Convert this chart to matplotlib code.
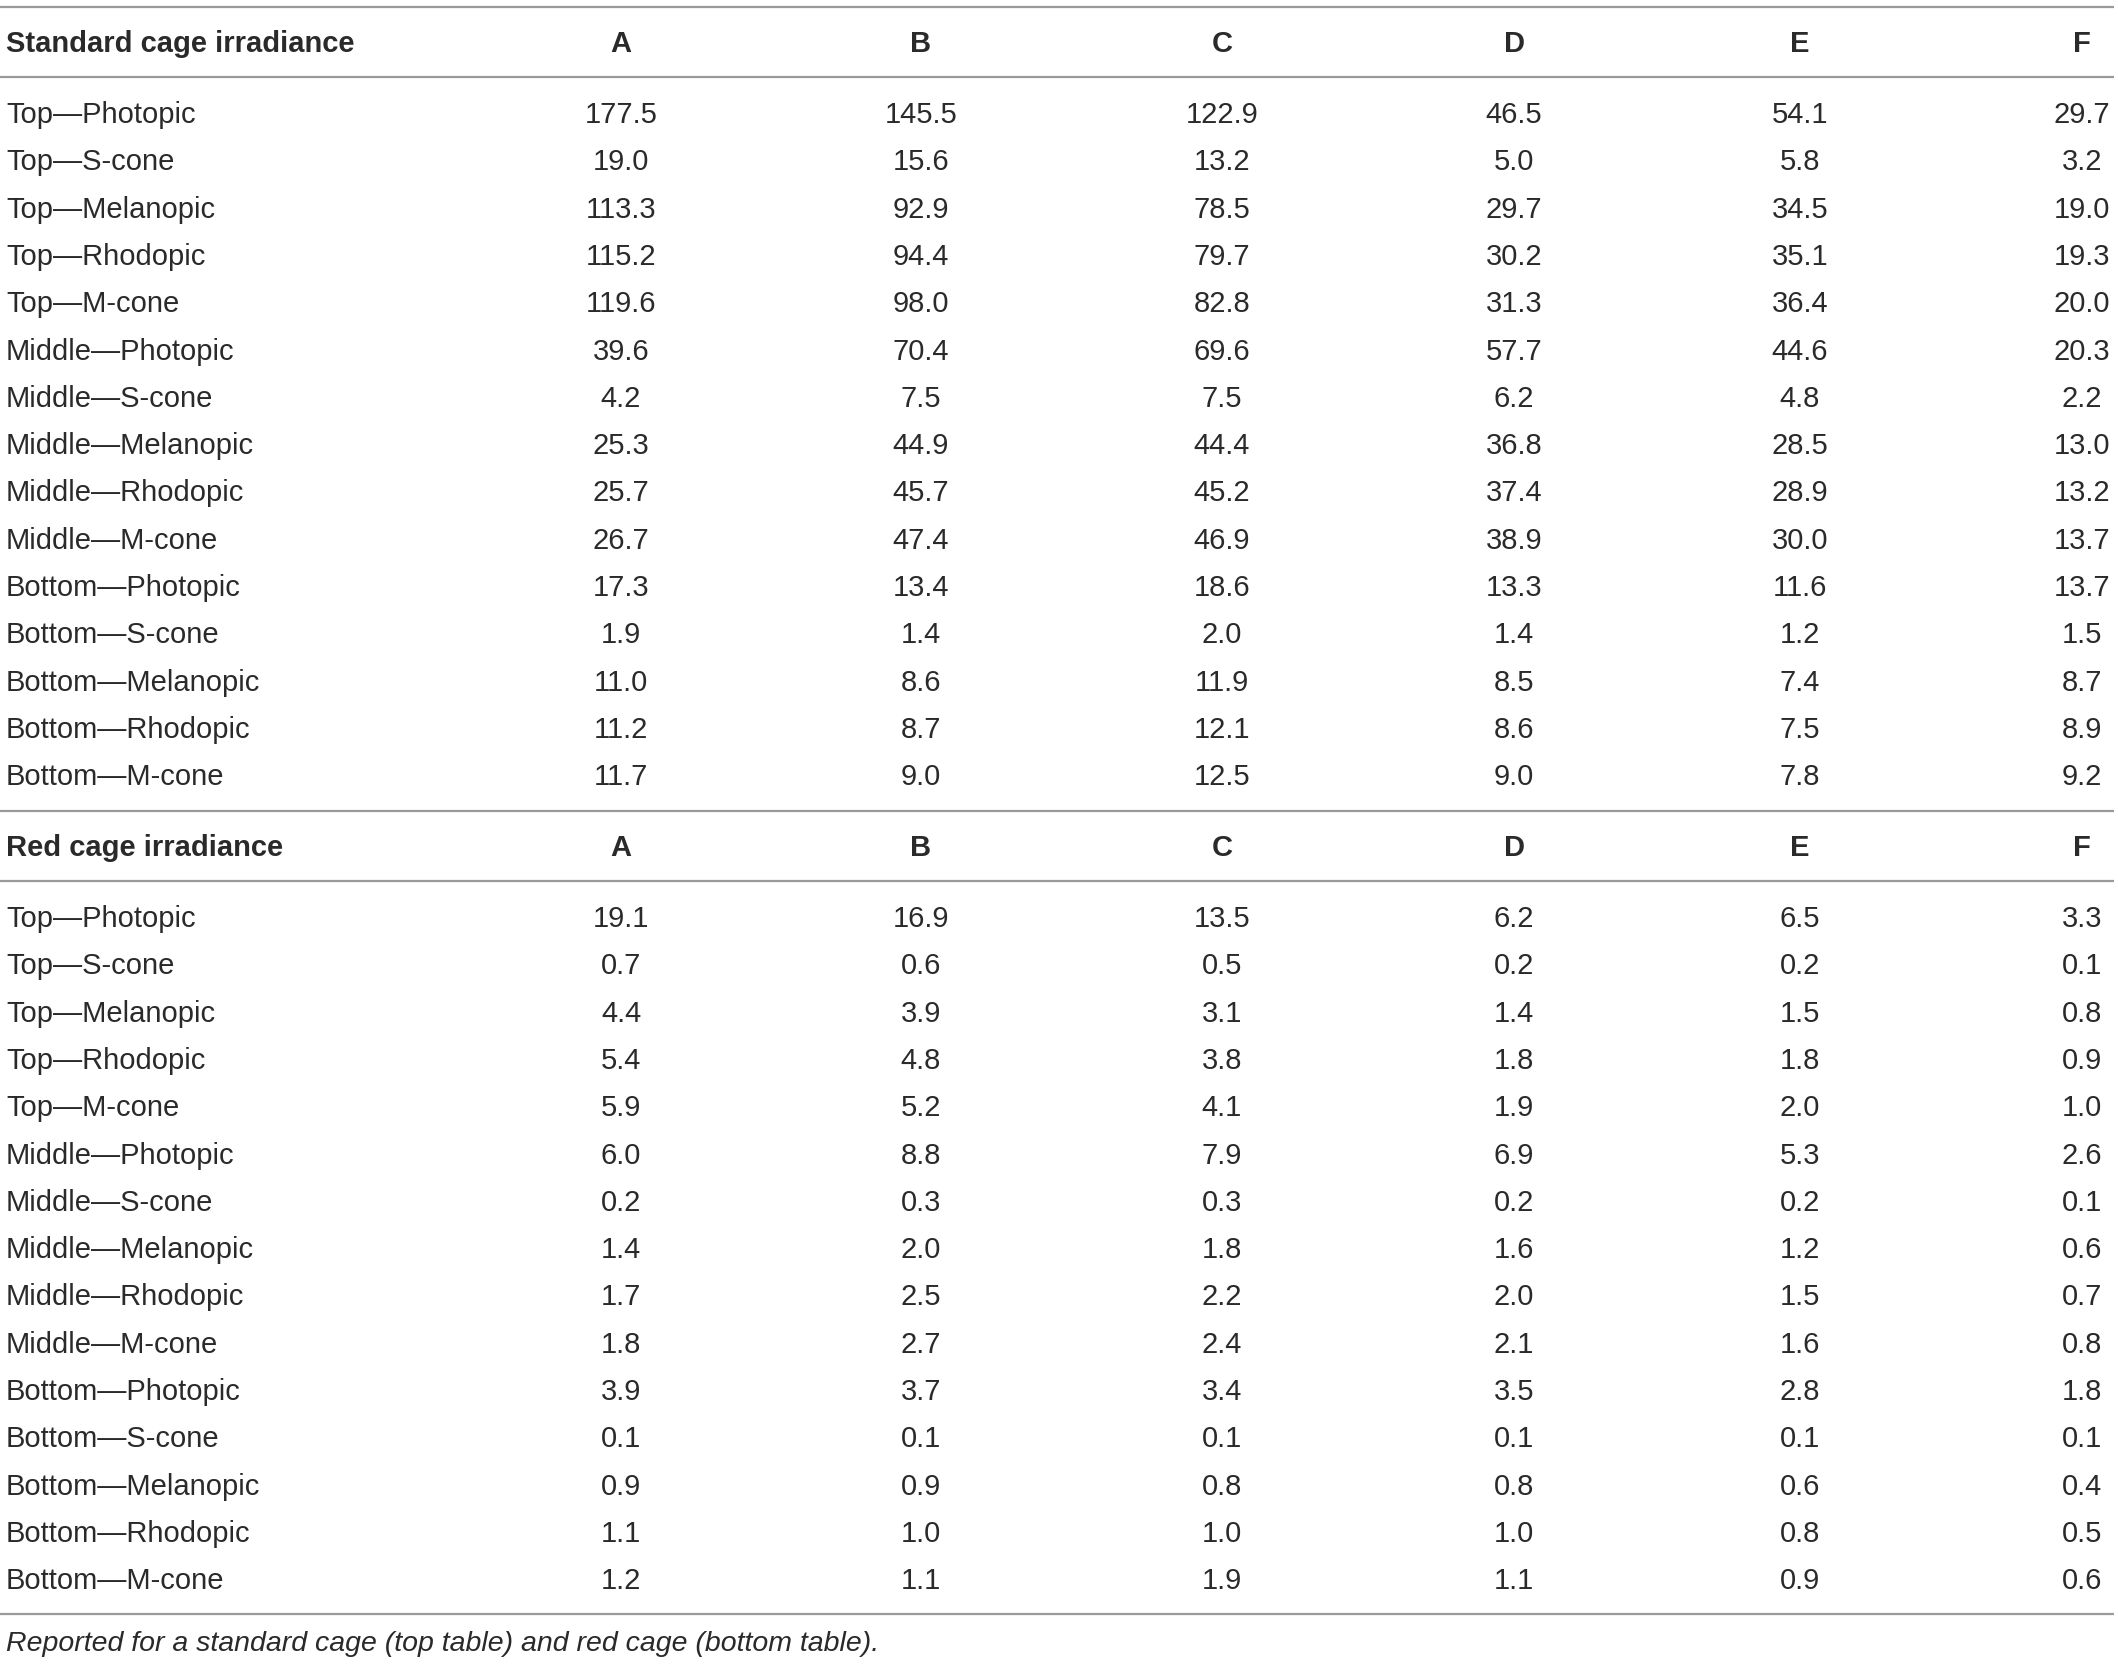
import matplotlib
matplotlib.use("Agg")
import matplotlib.pyplot as plt

columns = ["A", "B", "C", "D", "E", "F"]
row_labels = [
    "Top\u2014Photopic", "Top\u2014S-cone", "Top\u2014Melanopic", "Top\u2014Rhodopic", "Top\u2014M-cone",
    "Middle\u2014Photopic", "Middle\u2014S-cone", "Middle\u2014Melanopic", "Middle\u2014Rhodopic", "Middle\u2014M-cone",
    "Bottom\u2014Photopic", "Bottom\u2014S-cone", "Bottom\u2014Melanopic", "Bottom\u2014Rhodopic", "Bottom\u2014M-cone",
]
standard_title = "Standard cage irradiance"
red_title = "Red cage irradiance"
caption = "Reported for a standard cage (top table) and red cage (bottom table)."

standard_A = [177.5, 19.0, 113.3, 115.2, 119.6, 39.6, 4.2, 25.3, 25.7, 26.7, 17.3, 1.9, 11.0, 11.2, 11.7]
standard_B = [145.5, 15.6, 92.9, 94.4, 98.0, 70.4, 7.5, 44.9, 45.7, 47.4, 13.4, 1.4, 8.6, 8.7, 9.0]
standard_C = [122.9, 13.2, 78.5, 79.7, 82.8, 69.6, 7.5, 44.4, 45.2, 46.9, 18.6, 2.0, 11.9, 12.1, 12.5]
standard_D = [46.5, 5.0, 29.7, 30.2, 31.3, 57.7, 6.2, 36.8, 37.4, 38.9, 13.3, 1.4, 8.5, 8.6, 9.0]
standard_E = [54.1, 5.8, 34.5, 35.1, 36.4, 44.6, 4.8, 28.5, 28.9, 30.0, 11.6, 1.2, 7.4, 7.5, 7.8]
standard_F = [29.7, 3.2, 19.0, 19.3, 20.0, 20.3, 2.2, 13.0, 13.2, 13.7, 13.7, 1.5, 8.7, 8.9, 9.2]

red_A = [19.1, 0.7, 4.4, 5.4, 5.9, 6.0, 0.2, 1.4, 1.7, 1.8, 3.9, 0.1, 0.9, 1.1, 1.2]
red_B = [16.9, 0.6, 3.9, 4.8, 5.2, 8.8, 0.3, 2.0, 2.5, 2.7, 3.7, 0.1, 0.9, 1.0, 1.1]
red_C = [13.5, 0.5, 3.1, 3.8, 4.1, 7.9, 0.3, 1.8, 2.2, 2.4, 3.4, 0.1, 0.8, 1.0, 1.9]
red_D = [6.2, 0.2, 1.4, 1.8, 1.9, 6.9, 0.2, 1.6, 2.0, 2.1, 3.5, 0.1, 0.8, 1.0, 1.1]
red_E = [6.5, 0.2, 1.5, 1.8, 2.0, 5.3, 0.2, 1.2, 1.5, 1.6, 2.8, 0.1, 0.6, 0.8, 0.9]
red_F = [3.3, 0.1, 0.8, 0.9, 1.0, 2.6, 0.1, 0.6, 0.7, 0.8, 1.8, 0.1, 0.4, 0.5, 0.6]

standard_values = [standard_A, standard_B, standard_C, standard_D, standard_E, standard_F]
red_values = [red_A, red_B, red_C, red_D, red_E, red_F]

W, H = 2118, 1664
fig = plt.figure(figsize=(W / 100, H / 100), dpi=100)
ax = fig.add_axes([0, 0, 1, 1])
ax.set_xlim(0, W)
ax.set_ylim(H, 0)
ax.axis("off")

family = ["Liberation Sans", "DejaVu Sans"]
txt_color = "#2a2a2a"
rule_color = "#9a9a9a"
fs = 21

col_x = [621, 921, 1222, 1514, 1800, 2082]
label_x = 6
row_step = 47.3


def rule(y):
    ax.plot([0, 2114], [y, y], color=rule_color, lw=1.6, solid_capstyle="butt")


def block(title, values, y_top):
    rule(y_top)
    hy = y_top + 37
    ax.text(label_x, hy, title, ha="left", va="center", fontsize=fs, fontweight="bold",
            family=family, color=txt_color)
    for c, x in zip(columns, col_x):
        ax.text(x, hy, c, ha="center", va="center", fontsize=fs, fontweight="bold",
                family=family, color=txt_color)
    rule(y_top + 70)
    y0 = y_top + 108
    for i, lab in enumerate(row_labels):
        y = y0 + i * row_step
        ax.text(label_x, y, lab, ha="left", va="center", fontsize=fs, family=family, color=txt_color)
        for series, x in zip(values, col_x):
            ax.text(x, y, f"{series[i]:.1f}", ha="center", va="center", fontsize=fs,
                    family=family, color=txt_color)


block(standard_title, standard_values, 7)
block(red_title, red_values, 811)
rule(1614)
ax.text(label_x, 1644, caption, ha="left", va="center", fontsize=20.5, style="italic",
        family=family, color=txt_color)

fig.savefig("out.png", dpi=100)
